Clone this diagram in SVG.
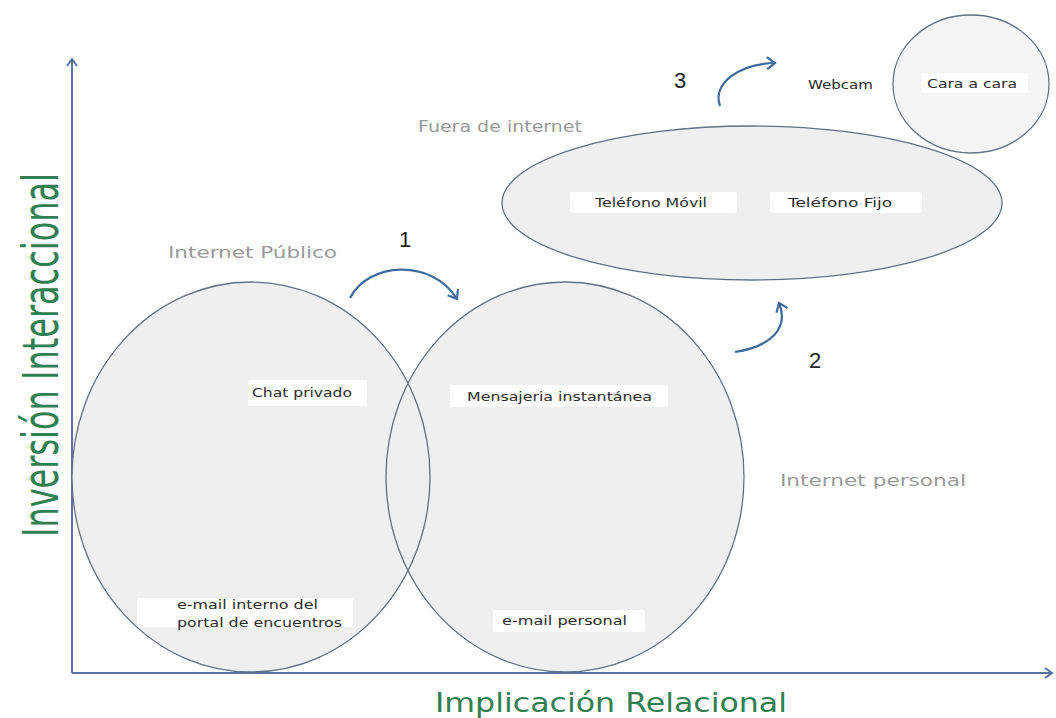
<svg xmlns="http://www.w3.org/2000/svg" width="1056" height="718" viewBox="0 0 1056 718">
<style>
.area{fill:#efefef;stroke:none}
.outline{fill:none;stroke:#66707e;stroke-width:1.3}
.box{fill:#ffffff;stroke:none}
.lbl{font-family:"DejaVu Sans",Verdana,sans-serif;font-size:13px;fill:#2b2b2b}
.zone{font-family:"DejaVu Sans",Verdana,sans-serif;font-size:16px;fill:#9a9a9a}
.num{font-family:"Liberation Sans",Arial,sans-serif;font-size:22px;fill:#222222}
.axis{stroke:#5b72a6;stroke-width:2;fill:none}
.flow{stroke:#3f6b9c;stroke-width:2.2;fill:none}
.title{fill:#2f7f52}
</style>
<defs>
<marker id="axhead" markerWidth="12" markerHeight="12" refX="9" refY="6" orient="auto" markerUnits="userSpaceOnUse">
<path d="M2,1 L9,6 L2,11" fill="none" stroke="#5b72a6" stroke-width="2"/>
</marker>
<marker id="flowhead" markerWidth="14" markerHeight="14" refX="10" refY="7" orient="auto" markerUnits="userSpaceOnUse">
<path d="M2,1 L10,7 L2,13" fill="none" stroke="#3f6b9c" stroke-width="2.2"/>
</marker>
</defs>
<rect width="1056" height="718" fill="#ffffff"/>

<g id="axes">
<line class="axis" x1="72" y1="673" x2="72" y2="59" marker-end="url(#axhead)"/>
<line class="axis" x1="72" y1="673" x2="1052" y2="673" marker-end="url(#axhead)"/>
<text class="title" transform="translate(58,355) rotate(-90)" text-anchor="middle" font-family="'DejaVu Sans Condensed','Liberation Sans Narrow','DejaVu Sans',sans-serif" font-size="50" textLength="364" lengthAdjust="spacingAndGlyphs">Inversión Interaccional</text>
<text class="title" x="435" y="712" font-family="'DejaVu Sans',Verdana,sans-serif" font-size="26" textLength="352" lengthAdjust="spacingAndGlyphs">Implicación Relacional</text>
</g>

<g id="fills">
<ellipse class="area" cx="251" cy="477" rx="179" ry="195"/>
<ellipse class="area" cx="565" cy="477" rx="179" ry="195"/>
<ellipse class="area" cx="752" cy="203" rx="250" ry="77"/>
<ellipse cx="971" cy="84" rx="78" ry="69" fill="#f5f5f6"/>
</g>

<g id="internet-publico">
<ellipse class="outline" cx="251" cy="477" rx="179" ry="195"/>
<text class="zone" x="168" y="258" textLength="169" lengthAdjust="spacingAndGlyphs">Internet Público</text>
<rect class="box" x="248" y="380" width="119" height="26" rx="2"/>
<text class="lbl" x="252" y="397" textLength="100" lengthAdjust="spacingAndGlyphs">Chat privado</text>
<rect class="box" x="137" y="598" width="216" height="29" rx="2"/>
<text class="lbl" x="177" y="609" textLength="141" lengthAdjust="spacingAndGlyphs">e-mail interno del</text>
<text class="lbl" x="177" y="627" textLength="165" lengthAdjust="spacingAndGlyphs">portal de encuentros</text>
</g>

<g id="internet-personal">
<ellipse class="outline" cx="565" cy="477" rx="179" ry="195"/>
<text class="zone" x="780" y="486" textLength="186" lengthAdjust="spacingAndGlyphs">Internet personal</text>
<rect class="box" x="450" y="385" width="218" height="22" rx="2"/>
<text class="lbl" x="467" y="401" textLength="185" lengthAdjust="spacingAndGlyphs">Mensajeria instantánea</text>
<rect class="box" x="493" y="610" width="152" height="22" rx="2"/>
<text class="lbl" x="502" y="625" textLength="125" lengthAdjust="spacingAndGlyphs">e-mail personal</text>
</g>

<g id="fuera-de-internet">
<ellipse class="outline" cx="752" cy="203" rx="250" ry="77"/>
<text class="zone" x="418" y="132" textLength="164" lengthAdjust="spacingAndGlyphs">Fuera de internet</text>
<rect class="box" x="570" y="192" width="167" height="21" rx="2"/>
<text class="lbl" x="595" y="207" textLength="112" lengthAdjust="spacingAndGlyphs">Teléfono Móvil</text>
<rect class="box" x="770" y="192" width="152" height="21" rx="2"/>
<text class="lbl" x="788" y="207" textLength="104" lengthAdjust="spacingAndGlyphs">Teléfono Fijo</text>
</g>

<g id="webcam">
<text class="lbl" x="808" y="89" textLength="65" lengthAdjust="spacingAndGlyphs">Webcam</text>
</g>

<g id="cara-a-cara">
<ellipse class="outline" cx="971" cy="84" rx="78" ry="69"/>
<rect class="box" x="922" y="73" width="106" height="20" rx="2"/>
<text class="lbl" x="927" y="88" textLength="90" lengthAdjust="spacingAndGlyphs">Cara a cara</text>
</g>

<g id="connectors">
<path class="flow" d="M350,298 C368,262 432,258 457,299" marker-end="url(#flowhead)"/>
<path class="flow" d="M735,352 C768,347 790,330 779,303" marker-end="url(#flowhead)"/>
<path class="flow" d="M720,106 C712,84 738,64 775,63" marker-end="url(#flowhead)"/>
<text class="num" x="399" y="247">1</text>
<text class="num" x="809" y="368">2</text>
<text class="num" x="674" y="88">3</text>
</g>
</svg>
